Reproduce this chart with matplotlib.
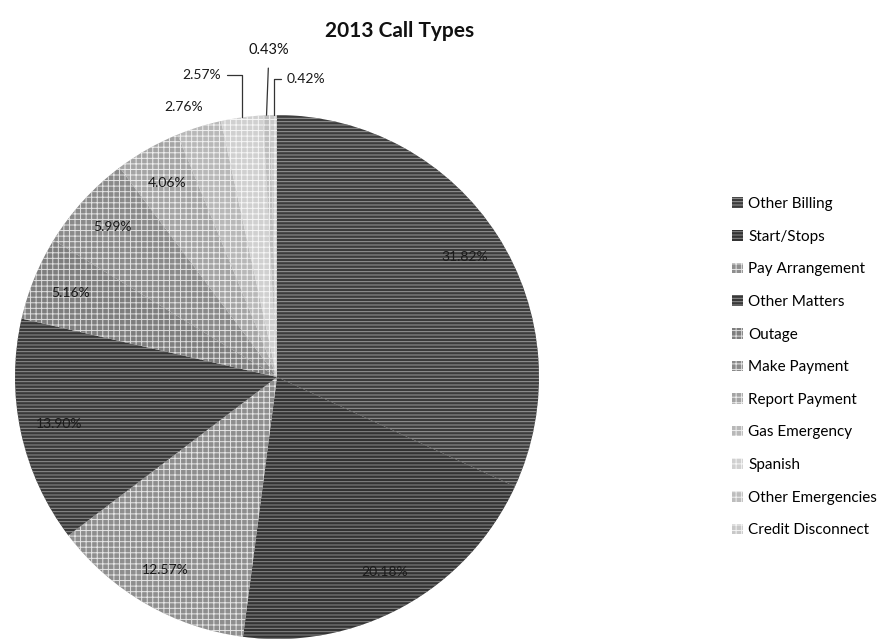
import numpy as np
import matplotlib
matplotlib.use("Agg")
import matplotlib.pyplot as plt

# 2013 call volume by type (percent of all calls)
categories = [
    "Other Billing", "Start/Stops", "Pay Arrangement", "Other Matters",
    "Outage", "Make Payment", "Report Payment", "Gas Emergency",
    "Spanish", "Other Emergencies", "Credit Disconnect",
]
shares = [31.82, 20.18, 12.57, 13.90, 5.16, 5.99, 4.06, 2.76, 2.57, 0.43, 0.42]

# grayscale fills with print-like textures
faces = ["#3c3c3c", "#333333", "#8e8e8e", "#383838", "#7e7e7e", "#8a8a8a",
         "#a4a4a4", "#b8b8b8", "#d0d0d0", "#bdbdbd", "#c8c8c8"]
hatch_cols = ["#9a9a9a", "#8a8a8a", "#e6e6e6", "#909090", "#dedede", "#e4e4e4",
              "#eeeeee", "#f0f0f0", "#f6f6f6", "#f0f0f0", "#f4f4f4"]
hatches = ["-----", "-----", "+++", "-----", "+++", "+++",
           "+++", "+++", "+++", "+++", "+++"]

plt.rcParams["font.family"] = ["Lato", "DejaVu Sans"]
plt.rcParams["hatch.linewidth"] = 0.7

W, H = 891, 639
fig = plt.figure(figsize=(W / 100, H / 100), dpi=100)

# pie axes: centre (277, 377) px from top-left, radius 262 px
cx, cy, R = 277, 377, 262
ax = fig.add_axes([(cx - R) / W, (H - cy - R) / H, 2 * R / W, 2 * R / H])

wedges, _ = ax.pie(shares, startangle=90, counterclock=False, radius=1.0,
                   wedgeprops=dict(linewidth=0))
ax.set_xlim(-1, 1)
ax.set_ylim(-1, 1)
ax.set_aspect("equal")
ax.axis("off")

for w, fc, hc, h in zip(wedges, faces, hatch_cols, hatches):
    w.set_facecolor(fc)
    w.set_edgecolor(hc)
    w.set_hatch(h)
    w.set_linewidth(0)


def px(x, y):
    """pixel position (from top-left) to pie data coordinates"""
    return (x - cx) / R, (cy - y) / R


label_kw = dict(fontsize=10, color="#1a1a1a", ha="center", va="center")

# labels inside the larger slices
for w, v in zip(wedges[:7], shares[:7]):
    mid = np.deg2rad((w.theta1 + w.theta2) / 2)
    r = 0.85
    ax.text(r * np.cos(mid), r * np.sin(mid), f"{v:.2f}%", **label_kw)


def edge(w, frac=1.0):
    mid = np.deg2rad((w.theta1 + w.theta2) / 2)
    return frac * np.cos(mid), frac * np.sin(mid)


# small slices: labels outside, some with leader lines
ax.text(*px(184, 107), f"{shares[7]:.2f}%", **label_kw)

line_kw = dict(color="#333333", lw=0.9)
ax.annotate(f"{shares[8]:.2f}%", xy=edge(wedges[8]), xytext=px(202, 75),
            ha="center", va="center", fontsize=10, color="#1a1a1a",
            annotation_clip=False,
            arrowprops=dict(arrowstyle="-", connectionstyle="angle,angleA=0,angleB=90,rad=0",
                            shrinkA=2, shrinkB=0, **line_kw))
ax.annotate(f"{shares[9]:.2f}%", xy=edge(wedges[9]), xytext=px(269, 50),
            ha="center", va="center", fontsize=10.5, color="#111111",
            annotation_clip=False,
            arrowprops=dict(arrowstyle="-", shrinkA=6, shrinkB=0, **line_kw))
ax.annotate(f"{shares[10]:.2f}%", xy=edge(wedges[10]), xytext=px(306, 79),
            ha="center", va="center", fontsize=10, color="#1a1a1a",
            annotation_clip=False,
            arrowprops=dict(arrowstyle="-", connectionstyle="angle,angleA=0,angleB=90,rad=0",
                            shrinkA=2, shrinkB=0, **line_kw))

fig.text(400 / W, 1 - 31 / H, "2013 Call Types", ha="center", va="center",
         fontsize=15, fontweight="bold", color="#111111")

leg = fig.legend(wedges, categories, loc="upper left",
                 bbox_to_anchor=(732 / W, 1 - 197 / H), frameon=False,
                 fontsize=11, handlelength=0.7, handleheight=0.7,
                 handletextpad=0.35, labelspacing=1.22, borderpad=0,
                 borderaxespad=0)

fig.savefig("out.png", dpi=100, facecolor="white")
